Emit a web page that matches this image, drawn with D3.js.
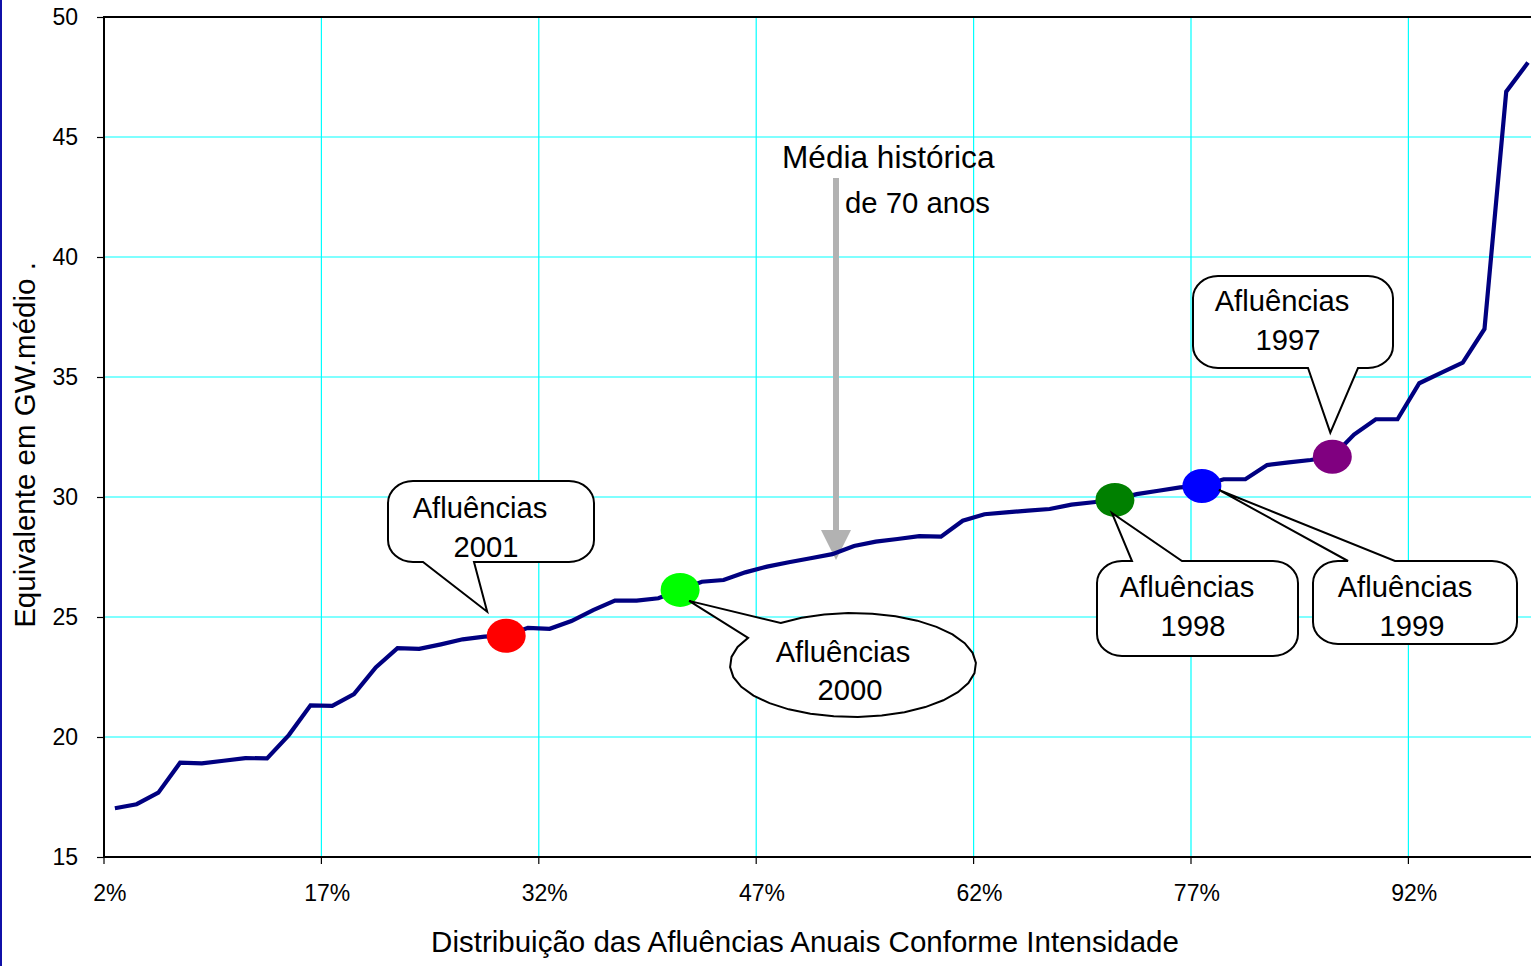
<!DOCTYPE html>
<html>
<head>
<meta charset="utf-8">
<script src="https://cdn.jsdelivr.net/npm/d3@7"></script>
<style>
  html, body { margin: 0; padding: 0; background: #fff; overflow: hidden; }
  svg { display: block; font-family: "Liberation Sans", Arial, sans-serif; }
</style>
</head>
<body>
<svg id="chart" width="1531" height="966"></svg>
<script>
// Annual inflows (GW médio equivalent), sorted by intensity: 66 years
const inflows = [
  17.03, 17.20, 17.68, 18.93, 18.90, 19.01, 19.12, 19.11, 20.08, 21.32,
  21.30, 21.79, 22.90, 23.70, 23.67, 23.86, 24.07, 24.18, 24.22, 24.55,
  24.51, 24.83, 25.29, 25.68, 25.68, 25.78, 26.13, 26.47, 26.54, 26.86,
  27.10, 27.28, 27.45, 27.62, 27.96, 28.14, 28.25, 28.37, 28.35, 29.01,
  29.28, 29.36, 29.43, 29.50, 29.68, 29.78, 29.88, 30.12, 30.26, 30.40,
  30.46, 30.74, 30.74, 31.33, 31.44, 31.54, 31.68, 32.60, 33.24, 33.24,
  34.74, 35.17, 35.60, 37.00, 46.89, 48.10
];

// Category axis: labels shown every 10 categories
const xTickIndex  = [0, 10, 20, 30, 40, 50, 60];
const xTickLabels = ["2%", "17%", "32%", "47%", "62%", "77%", "92%"];
const yTicks      = [15, 20, 25, 30, 35, 40, 45, 50];

// Highlighted years and the category they fall in
const highlightYears  = ["2001", "2000", "1998", "1999", "1997"];
const highlightIndex  = [18, 26, 46, 50, 56];
const highlightColors = ["#ff0000", "#00ff00", "#008000", "#0000ff", "#800080"];

const svg = d3.select("#chart");
const plot = { left: 104, top: 17, right: 104 + 66 * 21.74, bottom: 857 };

const x = d3.scaleBand()
  .domain(d3.range(inflows.length))
  .range([plot.left, plot.right])
  .padding(0);
const y = d3.scaleLinear().domain([15, 50]).range([plot.bottom, plot.top]);
const cx = i => x(i) + x.bandwidth() / 2;

// left page edge rule
svg.append("rect").attr("x", 0).attr("y", 0).attr("width", 2).attr("height", 966)
  .attr("fill", "#1010a8");

// gridlines
const grid = svg.append("g");
grid.selectAll("line.h").data(yTicks.filter(v => v > 15 && v < 50)).join("line")
  .attr("x1", plot.left).attr("x2", plot.right)
  .attr("y1", d => y(d)).attr("y2", d => y(d))
  .attr("stroke", "#00ffff").attr("stroke-width", 1.2);
grid.selectAll("line.v").data(xTickIndex.filter(i => i > 0)).join("line")
  .attr("x1", d => x(d)).attr("x2", d => x(d))
  .attr("y1", plot.top).attr("y2", plot.bottom)
  .attr("stroke", "#00ffff").attr("stroke-width", 1.2);

// y axis
const yAxis = svg.append("g")
  .attr("transform", `translate(${plot.left},0)`)
  .call(d3.axisLeft(y).tickValues(yTicks).tickSize(7).tickPadding(19).tickFormat(d3.format("d")));
yAxis.select(".domain").remove();
yAxis.selectAll("line").attr("stroke", "#000").attr("stroke-width", 1.2);
yAxis.selectAll("text").attr("font-size", 23).attr("fill", "#000")
  .attr("font-family", "Liberation Sans, Arial, sans-serif");

// x axis (category ticks at band boundaries, labels at category centres)
const xAxis = svg.append("g").attr("transform", `translate(0,${plot.bottom})`);
xAxis.selectAll("line").data(xTickIndex).join("line")
  .attr("x1", d => x(d)).attr("x2", d => x(d))
  .attr("y1", 0).attr("y2", 7)
  .attr("stroke", "#000").attr("stroke-width", 1.2);
xAxis.selectAll("text").data(xTickIndex).join("text")
  .attr("x", d => cx(d) - 5)
  .attr("y", 44)
  .attr("text-anchor", "middle")
  .attr("font-size", 23)
  .text((d, i) => xTickLabels[i]);

// plot frame
svg.append("rect")
  .attr("x", plot.left).attr("y", plot.top)
  .attr("width", plot.right - plot.left).attr("height", plot.bottom - plot.top)
  .attr("fill", "none").attr("stroke", "#000").attr("stroke-width", 2);

// axis titles
svg.append("text")
  .attr("x", 805).attr("y", 952)
  .attr("text-anchor", "middle").attr("font-size", 29.5)
  .text("Distribuição das Afluências Anuais Conforme Intensidade");
svg.append("text")
  .attr("transform", "translate(35,445) rotate(-90)")
  .attr("text-anchor", "middle").attr("font-size", 29.5)
  .text("Equivalente em GW.médio .");

// "historical mean" arrow
const arrowX = 836;
svg.append("rect").attr("x", arrowX - 3).attr("y", 178).attr("width", 6).attr("height", 355)
  .attr("fill", "#b2b2b2");
svg.append("path")
  .attr("d", `M${arrowX - 15},530 L${arrowX + 15},530 L${arrowX},560 Z`)
  .attr("fill", "#b2b2b2");
svg.append("text").attr("x", 782).attr("y", 168).attr("font-size", 31.6).text("Média histórica");
svg.append("text").attr("x", 845).attr("y", 213).attr("font-size", 29.3).text("de 70 anos");

// inflow curve
svg.append("path")
  .datum(inflows)
  .attr("d", d3.line().x((d, i) => cx(i)).y(d => y(d)))
  .attr("fill", "none")
  .attr("stroke", "#000080")
  .attr("stroke-width", 4.2)
  .attr("stroke-linejoin", "miter");

// highlighted years
svg.selectAll("ellipse.hl").data(highlightIndex).join("ellipse")
  .attr("cx", d => cx(d)).attr("cy", d => y(inflows[d]))
  .attr("rx", 19.5).attr("ry", 17)
  .attr("fill", (d, i) => highlightColors[i]);

// callout shapes
function roundedCallout(b, wedge, tip) {
  const rx = 25, ry = 22;
  const p = d3.path();
  p.moveTo(b.x0 + rx, b.y0);
  if (wedge.side === "top") {
    p.lineTo(wedge.a, b.y0); p.lineTo(tip[0], tip[1]); p.lineTo(wedge.b, b.y0);
  }
  p.lineTo(b.x1 - rx, b.y0);
  p.bezierCurveTo(b.x1 - rx * 0.45, b.y0, b.x1, b.y0 + ry * 0.45, b.x1, b.y0 + ry);
  p.lineTo(b.x1, b.y1 - ry);
  p.bezierCurveTo(b.x1, b.y1 - ry * 0.45, b.x1 - rx * 0.45, b.y1, b.x1 - rx, b.y1);
  if (wedge.side === "bottom") {
    p.lineTo(wedge.b, b.y1); p.lineTo(tip[0], tip[1]); p.lineTo(wedge.a, b.y1);
  }
  p.lineTo(b.x0 + rx, b.y1);
  p.bezierCurveTo(b.x0 + rx * 0.45, b.y1, b.x0, b.y1 - ry * 0.45, b.x0, b.y1 - ry);
  p.lineTo(b.x0, b.y0 + ry);
  p.bezierCurveTo(b.x0, b.y0 + ry * 0.45, b.x0 + rx * 0.45, b.y0, b.x0 + rx, b.y0);
  p.closePath();
  return p.toString();
}

function ellipseCallout(e, a1, a2, tip) {
  // a1 -> a2 are wedge base angles (degrees); outline runs the long way round
  const pts = [];
  const start = a2, end = a1 + 360, n = 30;
  for (let k = 0; k <= n; k++) {
    const t = (start + (end - start) * k / n) * Math.PI / 180;
    pts.push([e.cx + e.rx * Math.cos(t), e.cy + e.ry * Math.sin(t)]);
  }
  pts.push(tip);
  return "M" + pts.map(p => p.join(",")).join("L") + "Z";
}

const callouts = [
  { year: 0, box: { x0: 388, y0: 481, x1: 594, y1: 562 }, wedge: { side: "bottom", a: 423, b: 474 },
    tip: [-19, -24], l1: [480, 518], l2: [486, 557] },
  { year: 2, box: { x0: 1097, y0: 561, x1: 1298, y1: 656 }, wedge: { side: "top", a: 1132, b: 1182 },
    tip: [-3, 13], l1: [1187, 597], l2: [1193, 636] },
  { year: 3, box: { x0: 1313, y0: 561, x1: 1517, y1: 644 }, wedge: { side: "top", a: 1348, b: 1395 },
    tip: [17, 4], l1: [1405, 597], l2: [1412, 636] },
  { year: 4, box: { x0: 1193, y0: 276, x1: 1393, y1: 368 }, wedge: { side: "bottom", a: 1308, b: 1358 },
    tip: [-2, -24], l1: [1282, 311], l2: [1288, 350] }
];

const notes = svg.append("g");
callouts.forEach(c => {
  const i = highlightIndex[c.year];
  const tip = [cx(i) + c.tip[0], y(inflows[i]) + c.tip[1]];
  notes.append("path").attr("d", roundedCallout(c.box, c.wedge, tip))
    .attr("fill", "#fff").attr("stroke", "#000").attr("stroke-width", 2);
  notes.append("text").attr("x", c.l1[0]).attr("y", c.l1[1]).attr("text-anchor", "middle")
    .attr("font-size", 29.2).text("Afluências");
  notes.append("text").attr("x", c.l2[0]).attr("y", c.l2[1]).attr("text-anchor", "middle")
    .attr("font-size", 29.2).text(highlightYears[c.year]);
});

// 2000: oval callout
{
  const i = highlightIndex[1];
  const tip = [cx(i) + 9, y(inflows[i]) + 11];
  notes.append("path")
    .attr("d", ellipseCallout({ cx: 853, cy: 665, rx: 123, ry: 52 }, 211.5, 234, tip))
    .attr("fill", "#fff").attr("stroke", "#000").attr("stroke-width", 2);
  notes.append("text").attr("x", 843).attr("y", 662).attr("text-anchor", "middle")
    .attr("font-size", 29.2).text("Afluências");
  notes.append("text").attr("x", 850).attr("y", 700).attr("text-anchor", "middle")
    .attr("font-size", 29.2).text(highlightYears[1]);
}
</script>
</body>
</html>
